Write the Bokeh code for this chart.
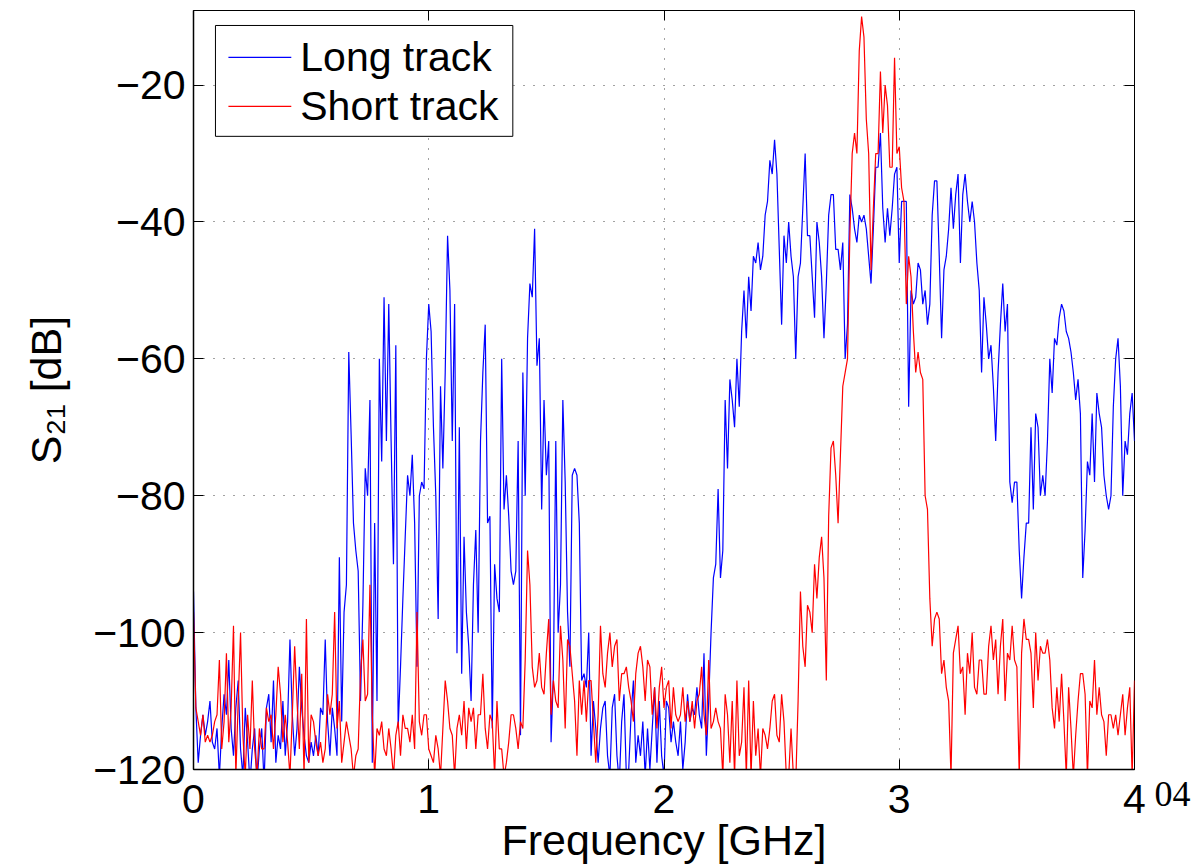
from bokeh.plotting import figure
from bokeh.models import FixedTicker, LinearAxis, Range1d, ColumnDataSource
from bokeh.core.properties import value
from bokeh.embed import file_html
from bokeh.resources import INLINE

# ---------------- data (S21 in dB, sampled every 0.01 GHz from 0 to 4 GHz) -------------
freq_step_ghz = 0.01

long_track = [
    -94, -111, -119, -115, -112, -115, -113, -110, -116, -117,
    -114, -121, -114, -109, -112, -104, -114, -118, -111, -107,
    -117, -121, -111, -116, -122, -117, -114, -122, -117, -114,
    -122, -111, -109, -116, -107, -119, -115, -117, -110, -118,
    -113, -101, -112, -118, -114, -105, -111, -115, -118, -119,
    -116, -118, -115, -118, -111, -112, -101, -113, -118, -111,
    -114, -118, -89, -113, -97, -93, -59, -71, -84, -88,
    -91, -110, -96, -76, -80, -66, -119, -84, -110, -60,
    -75, -51, -72, -52, -72, -90, -58, -114, -105, -95,
    -86, -77, -80, -74, -84, -105, -80, -78, -79, -60,
    -52, -56, -70, -80, -98, -64, -76, -62, -42, -50,
    -72, -52, -103, -70, -106, -86, -97, -102, -110, -93,
    -85, -100, -72, -62, -55, -84, -83, -114, -90, -95,
    -97, -60, -82, -77, -83, -91, -93, -91, -72, -115,
    -62, -80, -57, -49, -51, -41, -61, -57, -82, -66,
    -77, -72, -116, -106, -72, -100, -93, -66, -78, -97,
    -105, -77, -76, -77, -84, -107, -106, -108, -100, -118,
    -110, -114, -119, -114, -111, -110, -118, -121, -111, -109,
    -118, -122, -113, -109, -121, -120, -112, -107, -119, -115,
    -118, -113, -121, -114, -120, -114, -108, -119, -110, -118,
    -121, -110, -111, -116, -113, -116, -118, -113, -120, -116,
    -109, -113, -111, -112, -108, -112, -114, -103, -118, -110,
    -100, -92, -90, -79, -92, -88, -66, -76, -63, -66,
    -70, -60, -67, -56, -50, -57, -48, -53, -45, -46,
    -43, -47, -45, -39, -37, -31, -33, -28, -33, -44,
    -55, -42, -46, -40, -45, -48, -60, -48, -46, -38,
    -30, -42, -42, -48, -54, -40, -43, -48, -57, -49,
    -39, -36, -36, -44, -44, -47, -43, -60, -55, -36,
    -38, -41, -43, -39, -40, -39, -41, -45, -49, -41,
    -32, -32, -27, -38, -43, -38, -42, -38, -33, -32,
    -46, -37, -37, -37, -67, -50, -52, -51, -46, -47,
    -52, -50, -55, -52, -39, -34, -34, -45, -57, -47,
    -45, -41, -35, -41, -36, -33, -46, -36, -33, -37,
    -40, -37, -40, -46, -50, -62, -51, -55, -60, -58,
    -64, -72, -62, -55, -49, -56, -52, -78, -81, -78,
    -78, -88, -95, -89, -84, -84, -70, -82, -68, -70,
    -80, -77, -80, -72, -60, -65, -57, -58, -54, -52,
    -53, -56, -57, -59, -62, -66, -63, -68, -92, -85,
    -75, -77, -68, -78, -65, -68, -70, -77, -80, -82,
    -80, -67, -60, -57, -64, -80, -72, -74, -68, -65,
    -72,
]

short_track = [
    -97, -111, -113, -115, -112, -116, -115, -116, -115, -113,
    -112, -104, -117, -113, -103, -116, -111, -99, -121, -110,
    -100, -115, -121, -112, -117, -107, -117, -121, -114, -117,
    -117, -111, -113, -112, -117, -112, -105, -109, -116, -112,
    -116, -121, -112, -102, -110, -117, -106, -121, -98, -119,
    -112, -113, -116, -118, -116, -119, -117, -109, -112, -109,
    -97, -114, -110, -119, -116, -113, -115, -117, -121, -118,
    -117, -106, -101, -110, -109, -93, -112, -121, -114, -115,
    -113, -117, -118, -114, -117, -121, -115, -113, -118, -112,
    -114, -114, -116, -112, -117, -97, -113, -115, -112, -112,
    -117, -118, -119, -115, -117, -121, -114, -107, -110, -114,
    -115, -121, -114, -112, -115, -110, -117, -111, -113, -111,
    -117, -112, -112, -106, -114, -117, -112, -113, -121, -110,
    -117, -117, -121, -119, -116, -112, -112, -114, -117, -113,
    -114, -104, -88, -93, -105, -108, -107, -103, -108, -109,
    -103, -98, -112, -107, -110, -111, -99, -104, -114, -101,
    -102, -106, -110, -118, -107, -112, -107, -113, -107, -107,
    -113, -119, -112, -99, -106, -108, -103, -100, -105, -102,
    -101, -110, -106, -106, -105, -108, -110, -113, -106, -103,
    -102, -105, -110, -104, -105, -112, -108, -114, -108, -105,
    -111, -108, -107, -114, -108, -112, -113, -112, -108, -113,
    -110, -113, -110, -114, -110, -109, -105, -112, -115, -104,
    -114, -113, -111, -113, -114, -121, -109, -112, -119, -110,
    -121, -107, -118, -116, -108, -121, -107, -121, -110, -118,
    -114, -121, -114, -115, -117, -114, -110, -109, -115, -116,
    -109, -113, -121, -121, -114, -121, -122, -110, -94, -102,
    -105, -96, -97, -100, -90, -95, -89, -86, -92, -107,
    -83, -73, -72, -77, -84, -74, -64, -62, -60, -42,
    -30, -27, -30, -15, -10, -13, -25, -30, -47, -38,
    -30, -30, -18, -27, -20, -23, -32, -32, -16, -30,
    -29, -35, -37, -52, -45, -48, -56, -62, -59, -62,
    -63, -80, -82, -95, -102, -98, -97, -98, -106, -104,
    -108, -110, -121, -103, -101, -99, -106, -105, -112, -103,
    -106, -100, -108, -109, -104, -104, -109, -109, -102, -99,
    -104, -101, -109, -102, -98, -110, -103, -104, -99, -104,
    -105, -121, -103, -98, -101, -101, -103, -111, -100, -107,
    -102, -103, -103, -101, -104, -111, -114, -108, -113, -106,
    -113, -121, -108, -114, -121, -115, -110, -106, -106, -109,
    -121, -110, -111, -104, -112, -108, -112, -113, -118, -112,
    -112, -114, -112, -115, -112, -109, -115, -111, -108, -121,
    -107,
]

x_ticks = [0, 1, 2, 3, 4]
y_ticks = [-120, -100, -80, -60, -40, -20]
y_tick_labels = ["\u2212120", "\u2212100", "\u221280", "\u221260", "\u221240", "\u221220"]
series_names = ["Long track", "Short track"]
series_colors = ["#0000ff", "#ff0000"]
x_title = "Frequency [GHz]"
y_title = "S\u2082\u2081 [dB]"
corner_text = "04"

X_MIN, X_MAX = 0, 4
Y_MIN, Y_MAX = -120, -9.1

# ---------------- figure ----------------
FRAME_W, FRAME_H = 943, 760          # plot-area size in pixels
freq = [round(i * freq_step_ghz, 4) for i in range(len(long_track))]
src = ColumnDataSource(dict(f=freq, long=long_track, short=short_track))

FONT = "Liberation Sans"

p = figure(width=1193, height=866, output_backend="svg", toolbar_location=None,
           x_range=Range1d(X_MIN, X_MAX), y_range=Range1d(Y_MIN, Y_MAX),
           min_border_left=193, min_border_right=57, min_border_top=10,
           min_border_bottom=96)
p.background_fill_color = "white"
p.border_fill_color = "white"
p.outline_line_color = "black"
p.outline_line_width = 1

for ax, ticks in ((p.xaxis[0], x_ticks), (p.yaxis[0], y_ticks)):
    ax.ticker = FixedTicker(ticks=ticks)
    ax.major_tick_in = 10
    ax.major_tick_out = 0
    ax.minor_tick_in = 0
    ax.minor_tick_out = 0
    ax.axis_line_color = "black"
    ax.axis_line_width = 1.5
    ax.major_tick_line_color = "black"
    ax.major_label_text_font = FONT
    ax.major_label_text_font_size = "41px"
    ax.major_label_text_color = "black"
    ax.axis_label_text_font = FONT
    ax.axis_label_text_font_size = "43px"
    ax.axis_label_text_font_style = "normal"
    ax.axis_label_text_color = "black"

p.xaxis.major_label_standoff = 15
p.yaxis.major_label_standoff = 8
p.yaxis.major_label_overrides = {t: s for t, s in zip(y_ticks, y_tick_labels)}
p.xaxis.axis_label = x_title
p.xaxis.axis_label_standoff = 0
p.yaxis.axis_label = y_title
p.yaxis.axis_label_standoff = 20

# box-style inward ticks on the top and right edges (labels hidden)
for loc, ticks in (("above", x_ticks), ("right", y_ticks)):
    ax = LinearAxis(ticker=FixedTicker(ticks=ticks),
                    major_label_text_font_size="1px", major_label_text_color=None,
                    major_tick_in=10, major_tick_out=0, minor_tick_in=0, minor_tick_out=0,
                    major_label_standoff=0, axis_line_color=None,
                    major_tick_line_color="black")
    p.add_layout(ax, loc)

# second right-hand axis: carries only the small "04" text beside the last x tick
rax = LinearAxis(ticker=FixedTicker(ticks=[Y_MIN]),
                 major_label_overrides={Y_MIN: "\n" + corner_text},
                 major_label_text_font="Liberation Serif",
                 major_label_text_font_size="36px",
                 major_label_text_color="black",
                 major_label_standoff=20,
                 major_tick_in=0, major_tick_out=0, minor_tick_in=0, minor_tick_out=0,
                 axis_line_color=None, major_tick_line_color=None)
p.add_layout(rax, "right")

for g in (p.xgrid[0], p.ygrid[0]):
    g.grid_line_color = "#444444"
    g.grid_line_dash = "1 9"
    g.grid_line_width = 1
p.xgrid.ticker = FixedTicker(ticks=x_ticks)
p.ygrid.ticker = FixedTicker(ticks=y_ticks)

p.line("f", "long", source=src, line_color=series_colors[0], line_width=1.2)
p.line("f", "short", source=src, line_color=series_colors[1], line_width=1.2)

# ---------------- legend box (drawn inside the plot area, top-left) ----------------
def px_x(px):   # horizontal pixel offset from the frame's left edge -> data x
    return X_MIN + (X_MAX - X_MIN) * px / FRAME_W

def px_y(px):   # vertical pixel offset from the frame's top edge -> data y
    return Y_MAX - (Y_MAX - Y_MIN) * px / FRAME_H

LEG_LEFT, LEG_RIGHT, LEG_TOP, LEG_BOTTOM = 22, 320, 15, 126
SAMPLE_X0, SAMPLE_X1, TEXT_X = 35, 98, 107
ROW_Y = [47, 96]

p.quad(left=[px_x(LEG_LEFT)], right=[px_x(LEG_RIGHT)],
       top=[px_y(LEG_TOP)], bottom=[px_y(LEG_BOTTOM)],
       fill_color="white", line_color="black", line_width=1)
p.segment(x0=[px_x(SAMPLE_X0)] * 2, x1=[px_x(SAMPLE_X1)] * 2,
          y0=[px_y(r) for r in ROW_Y], y1=[px_y(r) for r in ROW_Y],
          line_color=series_colors, line_width=1.2)
p.text(x=[px_x(TEXT_X)] * 2, y=[px_y(r) for r in ROW_Y], text=series_names,
       text_font=value(FONT), text_font_size=value("41px"), text_color="black",
       text_align="left", text_baseline="middle")

open("out.html", "w").write(file_html(p, INLINE))
